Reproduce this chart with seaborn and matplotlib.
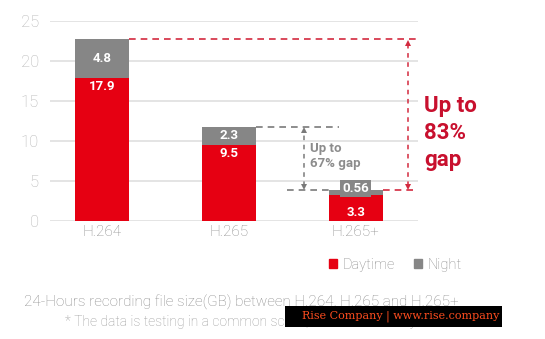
import matplotlib
matplotlib.use("Agg")
import matplotlib.pyplot as plt
from matplotlib.patches import Patch, Rectangle
import seaborn as sns
import pandas as pd

# 24-hour recording file size (GB) per codec, split by day and night
codecs = ["H.264", "H.265", "H.265+"]
daytime = [17.9, 9.5, 3.3]
night = [4.8, 2.3, 0.56]
yticks = [0, 5, 10, 15, 20, 25]

RED = "#e60012"
GREY = "#868686"
DASH_RED = "#d32a3f"
DASH_GREY = "#7a7a7a"

sns.set_theme(style="white")
plt.rcParams["font.family"] = ["Roboto", "DejaVu Sans"]

df = pd.DataFrame({"codec": codecs, "day": daytime, "night": night})
df["total"] = df["day"] + df["night"]

fig = plt.figure(figsize=(5.45, 3.39), dpi=100)
ax = fig.add_axes([50 / 545, 1 - 221 / 339, 368 / 545, 200 / 339])

W = 0.43
sns.barplot(data=df, x="codec", y="total", color=GREY, width=W,
            saturation=1, ax=ax, zorder=3, linewidth=0, edgecolor="none")
sns.barplot(data=df, x="codec", y="day", color=RED, width=W,
            saturation=1, ax=ax, zorder=3, linewidth=0, edgecolor="none")

ax.set_xlim(-0.41, 2.49)
ax.set_ylim(0, 25)
ax.set_yticks(yticks)
ax.set_xlabel("")
ax.set_ylabel("")
for s in ax.spines.values():
    s.set_visible(False)
ax.grid(axis="y", color="#e2e2e2", lw=1.3, zorder=0)
ax.tick_params(axis="y", colors="#b4b4b4", labelsize=12, pad=8, length=0)
ax.tick_params(axis="x", colors="#8a8a8a", labelsize=11, pad=3, length=0)
for t in ax.get_yticklabels() + ax.get_xticklabels():
    t.set_fontweight("light")

# value labels inside the stacked segments
for i, (d, n) in enumerate(zip(daytime, night)):
    dy = d - 1.1 if d > 5 else d * 0.33
    ax.text(i, dy, f"{d:g}", ha="center", va="center", color="white",
            fontsize=9.5, fontweight="bold", zorder=5)
    ny = d + n / 2
    if n < 1:
        ny = d + n + 0.2
        ax.text(i, ny, f"{n:g}", ha="center", va="center", color="white",
                fontsize=9.5, fontweight="bold", zorder=5,
                bbox=dict(boxstyle="square,pad=0.15", fc=GREY, ec="none"))
    else:
        ax.text(i, ny, f"{n:g}", ha="center", va="center", color="white",
                fontsize=9.5, fontweight="bold", zorder=5)

tot = df["total"].tolist()
dash = dict(lw=1.2, dashes=(4, 3))

# reference lines from the bar tops
ax.plot([0 + W / 2, 2.49], [tot[0], tot[0]], color=DASH_RED, zorder=2, **dash)
ax.plot([1 + W / 2, 1.87], [tot[1], tot[1]], color=DASH_GREY, zorder=2, **dash)
ax.plot([1.46, 2 - W / 2], [tot[2], tot[2]], color=DASH_GREY, zorder=2, **dash)
ax.plot([2 + W / 2, 2.49], [tot[2], tot[2]], color=DASH_RED, zorder=2, **dash)


def gap_arrow(x, top, bottom, color):
    ax.plot([x, x], [bottom + 0.5, top - 0.5], color=color, zorder=2,
            lw=1.1, dashes=(3, 3))
    ax.plot([x], [top - 0.45], marker="^", ms=5, color=color, mew=0, zorder=4)
    ax.plot([x], [bottom + 0.45], marker="v", ms=5, color=color, mew=0, zorder=4)


gap_arrow(1.59, tot[1], tot[2], DASH_GREY)
gap_arrow(2.41, tot[0], tot[2], DASH_RED)

gap_small = f"Up to\n{round((1 - tot[2] / tot[1]) * 100)}% gap"
gap_big = f"Up to\n{round((1 - tot[2] / tot[0]) * 100)}%\ngap"
fig.text(310 / 545, 1 - 142 / 339, gap_small, ha="left", va="top",
         color="#8c8c8c", fontsize=9.5, fontweight="bold", linespacing=1.2)
fig.text(424 / 545, 1 - 95 / 339, gap_big, ha="left", va="top",
         color="#c8102e", fontsize=16, fontweight="bold", linespacing=1.3)

# legend
handles = [Patch(color=RED, label="Daytime"), Patch(color=GREY, label="Night")]
leg = fig.legend(handles=handles, loc="center right", ncol=2, frameon=False,
                 bbox_to_anchor=(469 / 545, 1 - 265 / 339), fontsize=10.5,
                 handlelength=0.6, handleheight=0.6, handletextpad=0.35,
                 columnspacing=1.3, borderpad=0)
for t in leg.get_texts():
    t.set_color("#8a8a8a")
    t.set_fontweight("light")

# caption
fig.text(24 / 545, 1 - 302 / 339,
         "24-Hours recording file size(GB) between H.264, H.265 and H.265+",
         ha="left", va="center", color="#8a8a8a", fontsize=11, fontweight="light")
fig.text(65 / 545, 1 - 322 / 339,
         "* The data is testing in a common scene, for reference only.",
         ha="left", va="center", color="#9a9a9a", fontsize=10, fontweight="light")

# publisher tag
fig.patches.append(Rectangle((285 / 545, 1 - 327 / 339), 217 / 545, 21 / 339,
                             transform=fig.transFigure, facecolor="black",
                             edgecolor="none", zorder=10))
fig.text(302 / 545, 1 - 316 / 339, "Rise Company | www.rise.company",
         ha="left", va="center", color="#ff4d1f", fontsize=8,
         family="DejaVu Serif", zorder=11)

fig.savefig("out.png", dpi=100)
